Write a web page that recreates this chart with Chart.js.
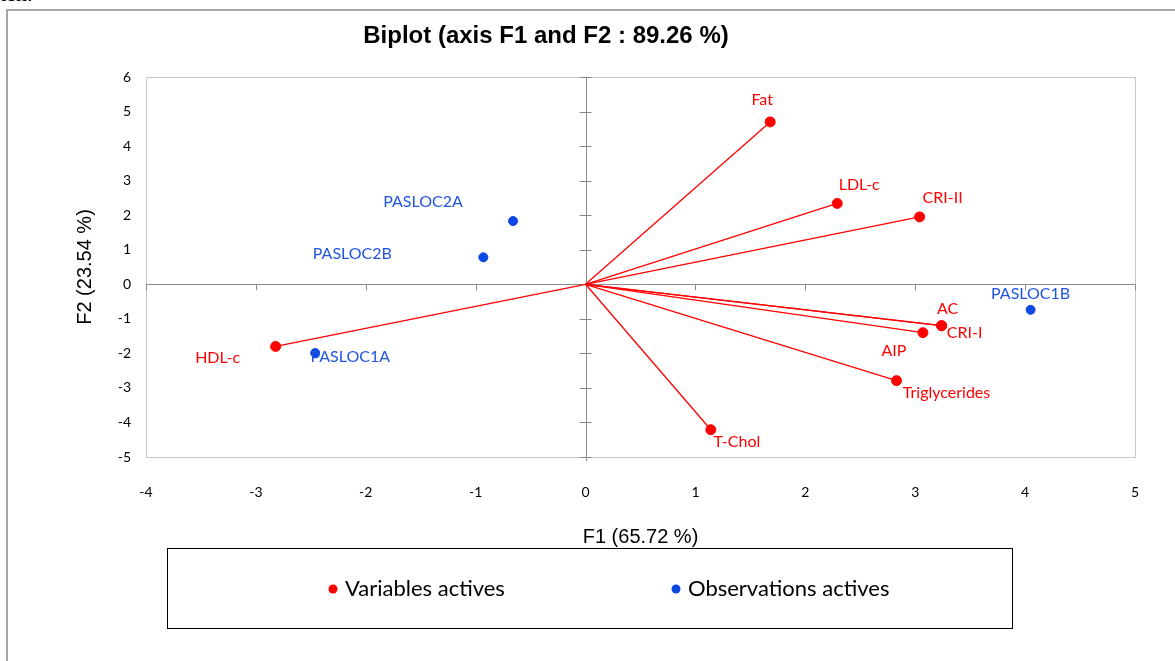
<!DOCTYPE html>
<html>
<head>
<meta charset="utf-8">
<script src="https://cdn.jsdelivr.net/npm/chart.js@4.4.1/dist/chart.umd.min.js"></script>
<style>
  html, body { margin: 0; padding: 0; background: #fff; overflow: hidden; }
  #wrap { position: relative; width: 1175px; height: 661px; overflow: hidden; }
  #cut { position: absolute; left: 0; top: -17px; font: 22px "Liberation Serif", serif; color: #000; line-height: 22px; }
  #frame { position: absolute; left: 6px; top: 9px; width: 1300px; height: 800px; border: 2px solid #a6a6a6; }
  canvas { position: absolute; left: 0; top: 0; }
</style>
</head>
<body>
<div id="wrap">
  <div id="cut">ten.</div>
  <div id="frame"></div>
  <canvas id="c_biplot" width="1175" height="661"></canvas>
</div>
<script>
// variables (loadings) and observations (scores)
const var_names = ['Fat', 'LDL-c', 'CRI-II', 'AC', 'CRI-I', 'AIP', 'Triglycerides', 'T-Chol', 'HDL-c'];
const var_f1 = [1.68, 2.29, 3.04, 3.24, 3.24, 3.07, 2.83, 1.14, -2.82];
const var_f2 = [4.70, 2.34, 1.95, -1.20, -1.20, -1.40, -2.79, -4.21, -1.80];

const obs_names = ['PASLOC2A', 'PASLOC2B', 'PASLOC1A', 'PASLOC1B'];
const obs_f1 = [-0.66, -0.93, -2.46, 4.05];
const obs_f2 = [1.83, 0.78, -1.99, -0.74];

const f1_ticks = [-4, -3, -2, -1, 0, 1, 2, 3, 4, 5];
const f2_ticks = [-5, -4, -3, -2, -1, 0, 1, 2, 3, 4, 5, 6];

// label placement (pixel offsets from the point)
const var_label_off = [[-8, -22], [22, -19], [23, -19], [6, -17], [23, 7], [-29, 18], [50, 12], [26, 12], [-58, 11]];
const obs_label_off = [[-90, -19], [-131, -3], [35, 4], [0, -16]];

const RED = '#ff0000';
const BLUE = '#0b47e3';
const BLUE_TXT = '#1f55e0';

Chart.defaults.font.family = 'Lato';

const c_biplot = document.getElementById('c_biplot');

var datasets = [];
for (let i = 0; i < var_names.length; i++) {
    datasets.push({
        label: 'arrow ' + var_names[i],
        data: [{ x: 0, y: 0 }, { x: var_f1[i], y: var_f2[i] }],
        showLine: true,
        borderColor: RED,
        borderWidth: 1.3,
        pointRadius: 0,
        order: 2
    });
}
datasets.push({
    label: 'Variables actives',
    data: var_f1.map((v, i) => ({ x: v, y: var_f2[i] })),
    backgroundColor: RED,
    borderColor: RED,
    pointRadius: 5,
    order: 1
});
datasets.push({
    label: 'Observations actives',
    data: obs_f1.map((v, i) => ({ x: v, y: obs_f2[i] })),
    backgroundColor: BLUE,
    borderColor: BLUE,
    pointRadius: 4.5,
    order: 1
});

const frame_plugin = {
    id: 'frame',
    beforeDatasetsDraw(chart) {
        const ctx = chart.ctx;
        const a = chart.chartArea;
        const xs = chart.scales.x, ys = chart.scales.y;
        const x0 = xs.getPixelForValue(0), y0 = ys.getPixelForValue(0);
        ctx.save();
        ctx.strokeStyle = '#c8c8c8';
        ctx.lineWidth = 1;
        ctx.strokeRect(a.left + 0.5, a.top + 0.5, a.right - a.left, a.bottom - a.top);
        ctx.strokeStyle = '#8a8a8a';
        ctx.beginPath();
        ctx.moveTo(Math.round(x0) + 0.5, a.top);
        ctx.lineTo(Math.round(x0) + 0.5, a.bottom + 4);
        ctx.moveTo(a.left, Math.round(y0) + 0.5);
        ctx.lineTo(a.right, Math.round(y0) + 0.5);
        f2_ticks.forEach(t => {
            const py = Math.round(ys.getPixelForValue(t)) + 0.5;
            ctx.moveTo(x0 - 6, py);
            ctx.lineTo(x0 + 6, py);
        });
        f1_ticks.forEach(t => {
            const px = Math.round(xs.getPixelForValue(t)) + 0.5;
            ctx.moveTo(px, y0);
            ctx.lineTo(px, y0 + 6);
        });
        ctx.stroke();
        ctx.restore();
    },
    afterDatasetsDraw(chart) {
        const ctx = chart.ctx;
        const xs = chart.scales.x, ys = chart.scales.y;
        ctx.save();
        ctx.font = '16px Lato';
        ctx.textAlign = 'center';
        ctx.textBaseline = 'middle';
        ctx.fillStyle = RED;
        var_names.forEach((n, i) => {
            ctx.fillText(n, xs.getPixelForValue(var_f1[i]) + var_label_off[i][0], ys.getPixelForValue(var_f2[i]) + var_label_off[i][1]);
        });
        ctx.fillStyle = BLUE_TXT;
        obs_names.forEach((n, i) => {
            ctx.fillText(n, xs.getPixelForValue(obs_f1[i]) + obs_label_off[i][0], ys.getPixelForValue(obs_f2[i]) + obs_label_off[i][1]);
        });
        ctx.restore();
    },
    afterDraw(chart) {
        const ctx = chart.ctx;
        ctx.save();
        // title
        ctx.fillStyle = '#000';
        ctx.font = 'bold 24px "Liberation Sans", Arial';
        ctx.textAlign = 'center';
        ctx.textBaseline = 'alphabetic';
        ctx.fillText('Biplot (axis F1 and F2 : 89.26 %)', 546, 43);
        // legend box
        ctx.strokeStyle = '#000';
        ctx.lineWidth = 1;
        ctx.strokeRect(167.5, 548.5, 845, 80);
        ctx.font = '22px Lato';
        ctx.textAlign = 'left';
        ctx.textBaseline = 'middle';
        const items = [['Variables actives', RED, 333], ['Observations actives', BLUE, 676]];
        items.forEach(it => {
            ctx.fillStyle = it[1];
            ctx.beginPath();
            ctx.arc(it[2], 589, 4.5, 0, Math.PI * 2);
            ctx.fill();
            ctx.fillStyle = '#000';
            ctx.fillText(it[0], it[2] + 12, 589);
        });
        ctx.restore();
    }
};

var biplot_data = {
    type: 'scatter',
    data: { datasets: datasets },
    options: {
        responsive: false,
        animation: false,
        layout: { padding: { top: 77, right: 40, bottom: 114, left: 0 } },
        plugins: {
            legend: { display: false },
            tooltip: { enabled: false }
        },
        scales: {
            x: {
                type: 'linear',
                min: f1_ticks[0],
                max: f1_ticks[f1_ticks.length - 1],
                ticks: { stepSize: 1, padding: 27, color: '#000', font: { size: 14 } },
                grid: { display: false, drawTicks: false },
                border: { display: false },
                title: {
                    display: true,
                    text: 'F1 (65.72 %)',
                    color: '#000',
                    font: { family: '"Liberation Sans", Arial', size: 20, lineHeight: 1 },
                    padding: 0
                },
                afterFit: (scale) => { scale.height = 90; }
            },
            y: {
                type: 'linear',
                min: f2_ticks[0],
                max: f2_ticks[f2_ticks.length - 1],
                ticks: { stepSize: 1, padding: 15, color: '#000', font: { size: 14 } },
                grid: { display: false, drawTicks: false },
                border: { display: false },
                title: {
                    display: true,
                    text: 'F2 (23.54 %)',
                    color: '#000',
                    font: { family: '"Liberation Sans", Arial', size: 20, lineHeight: 1 },
                    padding: { top: 75, bottom: 0 }
                },
                afterFit: (scale) => { scale.width = 146; }
            }
        }
    },
    plugins: [frame_plugin]
};

var chart_biplot = new Chart(c_biplot, biplot_data);
</script>
</body>
</html>
